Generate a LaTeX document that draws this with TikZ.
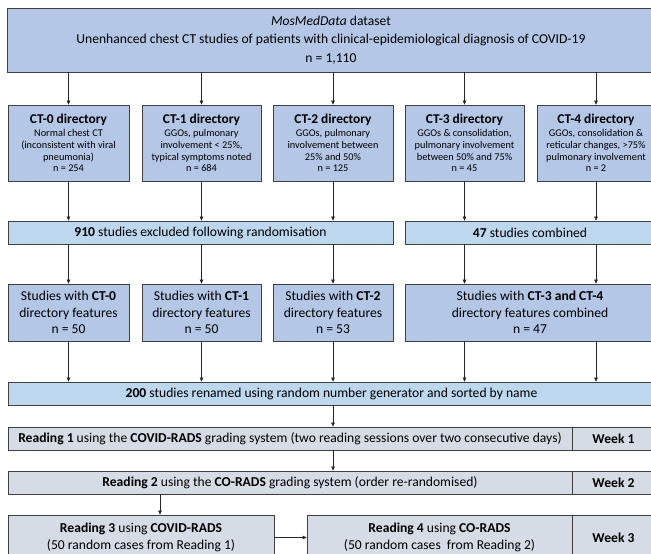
\documentclass[tikz,border=0pt]{standalone}
\usepackage{fontspec}
\setmainfont{Carlito}
\usetikzlibrary{arrows.meta}
\definecolor{dirblue}{HTML}{B4C7E7}
\definecolor{bandblue}{HTML}{BDD7EE}
\definecolor{readgrey}{HTML}{D6DCE5}
\definecolor{edgegrey}{HTML}{404040}
\tikzset{
  box/.style={draw=edgegrey,line width=0.8pt,inner sep=0pt,align=center,
    font=\fontsize{13.6}{16.7}\selectfont},
  boxsize/.style 2 args={minimum width=#1pt,minimum height=#2pt},
  dirbox/.style={box,fill=dirblue},
  smallbox/.style={box,fill=dirblue,font=\fontsize{10.3}{11.6}\selectfont},
  bandbox/.style={box,fill=bandblue},
  readbox/.style={box,fill=readgrey},
  flow/.style={draw=black!85,line width=0.6pt,-{Triangle[length=4pt,width=3.6pt]}}
}
\newcommand{\dirtitle}[1]{{\fontsize{13.4}{15}\selectfont\bfseries #1}}
\begin{document}
\begin{tikzpicture}[x=1pt,y=-1pt]
\clip (0,0) rectangle (651,554);
%DATASET
\node[dirbox,boxsize={648}{64},font=\fontsize{13.6}{18.5}\selectfont] (data) at (331,40)
  {\textit{MosMedData} dataset\\Unenhanced chest CT studies of patients with clinical-epidemiological diagnosis of COVID-19\\n = 1,110};
%DIRECTORIES
\node[smallbox,boxsize={121}{76}] (ct0) at (68.5,143)
  {\dirtitle{CT-0 directory}\\[1.5pt]Normal chest CT\\(inconsistent with viral\\pneumonia)\\n = 254};
\node[smallbox,boxsize={119}{76}] (ct1) at (201.5,143)
  {\dirtitle{CT-1 directory}\\[1.5pt]GGOs, pulmonary\\involvement < 25\%,\\typical symptoms noted\\n = 684};
\node[smallbox,boxsize={120}{76}] (ct2) at (333,143)
  {\dirtitle{CT-2 directory}\\[1.5pt]GGOs, pulmonary\\involvement between\\25\% and 50\%\\n = 125};
\node[smallbox,boxsize={119}{76}] (ct3) at (464.5,143)
  {\dirtitle{CT-3 directory}\\[1.5pt]GGOs \& consolidation,\\pulmonary involvement\\between 50\% and 75\%\\n = 45};
\node[smallbox,boxsize={118}{76}] (ct4) at (596,143)
  {\dirtitle{CT-4 directory}\\[1.5pt]GGOs, consolidation \&\\reticular changes, >75\%\\pulmonary involvement\\n = 2};
\foreach \d in {ct0,ct1,ct2,ct3,ct4}
  \draw[flow] (\d.north |- data.south) -- (\d.north);
%SELECTION
\node[bandbox,boxsize={385}{23}] (excl) at (200.5,232.5) {\textbf{910} studies excluded following randomisation};
\node[bandbox,boxsize={250}{23}] (comb) at (530,232.5) {\textbf{47} studies combined};
\foreach \d in {ct0,ct1,ct2}
  \draw[flow] (\d.south) -- (\d.south |- excl.north);
\foreach \d in {ct3,ct4}
  \draw[flow] (\d.south) -- (\d.south |- comb.north);
\node[dirbox,boxsize={121}{57}] (st0) at (68.5,312.5) {Studies with \textbf{CT-0}\\directory features\\n = 50};
\node[dirbox,boxsize={119}{57}] (st1) at (201.5,312.5) {Studies with \textbf{CT-1}\\directory features\\n = 50};
\node[dirbox,boxsize={120}{57}] (st2) at (333,312.5) {Studies with \textbf{CT-2}\\directory features\\n = 53};
\node[dirbox,boxsize={250}{57}] (st34) at (530,312.5) {Studies with \textbf{CT-3 and CT-4}\\directory features combined\\n = 47};
\foreach \d in {st0,st1,st2}
  \draw[flow] (\d.north |- excl.south) -- (\d.north);
\foreach \d in {ct3,ct4}
  \draw[flow] (\d.south |- comb.south) -- (\d.south |- st34.north);
%READINGS
\node[bandbox,boxsize={647}{23}] (renamed) at (331.5,393.5) {\textbf{200} studies renamed using random number generator and sorted by name};
\foreach \d in {st0,st1,st2}
  \draw[flow] (\d.south) -- (\d.south |- renamed.north);
\foreach \d in {ct3,ct4}
  \draw[flow] (\d.south |- st34.south) -- (\d.south |- renamed.north);
\node[readbox,boxsize={564}{23}] (read1) at (290,438.5) {\textbf{Reading 1} using the \textbf{COVID-RADS} grading system (two reading sessions over two consecutive days)};
\node[readbox,boxsize={83}{23}] (week1) at (613.5,438.5) {\textbf{Week 1}};
\node[readbox,boxsize={564}{23}] (read2) at (290,482.5) {\textbf{Reading 2} using the \textbf{CO-RADS} grading system (order re-randomised)};
\node[readbox,boxsize={83}{23}] (week2) at (613.5,482.5) {\textbf{Week 2}};
\node[readbox,boxsize={266}{45}] (read3) at (141,537.5) {\textbf{Reading 3} using \textbf{COVID-RADS}\\(50 random cases from Reading 1)};
\node[readbox,boxsize={265}{45}] (read4) at (439.5,537.5) {\textbf{Reading 4} using \textbf{CO-RADS}\\(50 random cases\ \ from Reading 2)};
\node[readbox,boxsize={83}{45}] (week3) at (613.5,537.5) {\textbf{Week 3}};
\draw[flow] (ct2.south |- renamed.south) -- (ct2.south |- read1.north);
\draw[flow] (ct2.south |- read1.south) -- (ct2.south |- read2.north);
\draw[flow] ([xshift=19pt]read3.north |- read2.south) -- ([xshift=19pt]read3.north);
\draw[flow] (read3.east) -- (read4.west);
\end{tikzpicture}
\end{document}
